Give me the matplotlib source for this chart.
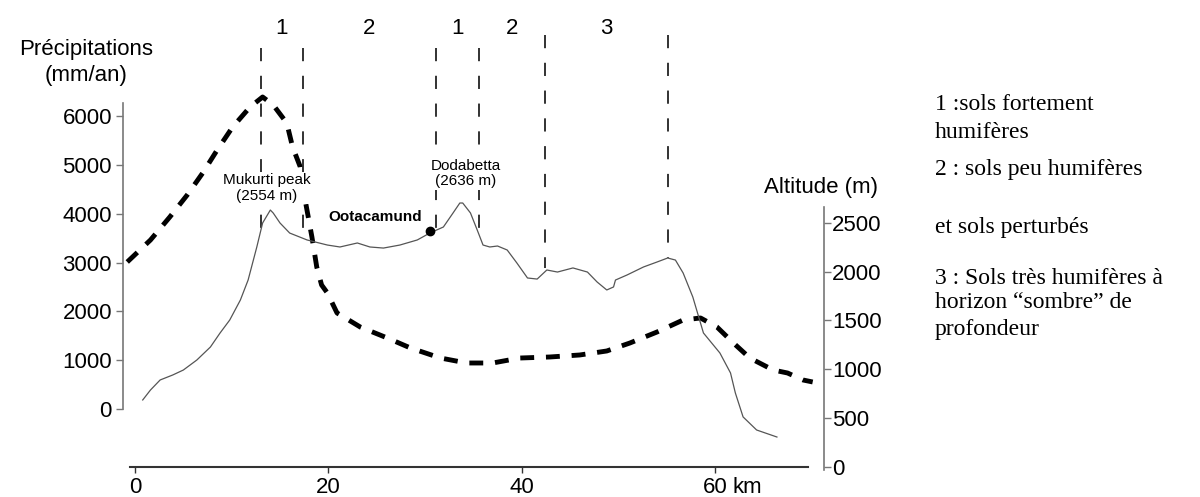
import matplotlib
matplotlib.use('Agg')
import matplotlib.pyplot as plt
import matplotlib.transforms as mtransforms

plt.rcParams['font.family'] = ['Liberation Sans', 'DejaVu Sans']
plt.rcParams['lines.scale_dashes'] = False

# altitude profile (km, m)
dist_alt = [0.8, 1.6, 2.6, 3.9, 5.0, 6.4, 7.8, 8.8, 9.8, 10.9, 11.7, 12.6, 13.2, 14.0,
            14.3, 15.0, 16.0, 17.8, 19.9, 21.2, 23.0, 24.3, 25.7, 27.4, 29.2, 30.5,
            31.9, 32.9, 33.6, 33.9, 34.7, 35.4, 36.0, 36.7, 37.5, 38.5, 39.5, 40.6,
            41.6, 42.6, 43.7, 45.3, 46.8, 47.8, 48.8, 49.5, 49.7, 50.9, 52.6, 54.0,
            55.1, 55.9, 56.7, 57.7, 58.8, 60.5, 61.6, 62.1, 62.9, 64.3, 66.4]
altitude = [685, 787, 890, 941, 992, 1095, 1228, 1372, 1505, 1710, 1915, 2254, 2500, 2633,
            2602, 2500, 2397, 2326, 2274, 2254, 2295, 2254, 2243, 2274, 2326, 2397,
            2459, 2603, 2705, 2705, 2603, 2428, 2274, 2254, 2264, 2223, 2090, 1936,
            1925, 2018, 1997, 2039, 1997, 1895, 1813, 1844, 1915, 1967, 2049, 2100,
            2141, 2120, 1987, 1741, 1372, 1167, 962, 757, 511, 377, 305]

# precipitation (km, mm/an)
dist_pr = [-0.8, 1.6, 3.6, 5.4, 7.0, 8.5, 10.1, 11.9, 13.2, 14.3, 15.7, 16.3, 17.1,
           17.6, 18.3, 18.8, 19.3, 19.9, 20.9, 23.3, 26.1, 28.5, 31.6, 34.3, 37.0,
           39.8, 42.9, 46.0, 48.8, 51.2, 54.0, 56.7, 58.5, 60.2, 61.9, 63.6, 66.0,
           67.5, 69.1, 70.1]
precip = [3011, 3461, 3932, 4383, 4833, 5304, 5775, 6185, 6390, 6226, 5857, 5366, 4956,
          4280, 3523, 2908, 2540, 2376, 1966, 1679, 1454, 1249, 1044, 942, 942,
          1044, 1065, 1106, 1188, 1352, 1577, 1823, 1864, 1679, 1352, 1044, 799,
          737, 594, 553]

# soil zone limits (km) and where the dashed lines start/stop (m)
limits = [13.0, 17.4, 31.1, 35.6, 42.4, 55.1]
limit_tops = [4295, 4295, 4295, 4295, 4428, 4428]
limit_bottoms = [2428, 2428, 2428, 2428, 2035, 2141]
zone_labels = ['1', '2', '1', '2', '3']

peaks = [('Mukurti peak\n(2554 m)', 13.65, 2859), ('Dodabetta\n(2636 m)', 34.25, 3008)]
town = ('Ootacamund', 30.5, 2421)

legend_lines = ['1 :sols fortement', 'humifères', '2 : sols peu humifères',
                'et sols perturbés', '3 : Sols très humifères à',
                'horizon \u201csombre\u201d de', 'profondeur']
legend_y = [105, 132, 170, 227, 278, 303, 330]

W, H = 1200, 497
fig = plt.figure(figsize=(W / 100, H / 100), dpi=100)
ax = fig.add_axes([123 / W, (H - 475) / H, (824 - 123) / W, (475 - 20) / H])
ax2 = ax.twinx()
ax2.set_zorder(ax.get_zorder() + 1)
ax2.patch.set_visible(False)

ax.set_xlim(-1.241, 71.27)
ax.set_ylim(-1352, 7967)
ax2.set_ylim(-84.6, 4582)

ax.plot(dist_pr, precip, color='black', lw=3.5, linestyle=(0, (10, 8.5)),
        dash_capstyle='butt', zorder=3)
ax2.plot(dist_alt, altitude, color='#555555', lw=0.9, zorder=2)
# drawn from the top down so the dash pattern starts at the top
ax2.vlines(limits, limit_tops, limit_bottoms, colors='#222222', lw=1.3,
           linestyles=[(0, (9.5, 10.5))], zorder=1)
ax2.plot([town[1]], [town[2]], 'o', color='black', ms=6, zorder=4)

for txt, x, y in peaks:
    ax2.text(x, y, txt, ha='center', va='center', fontsize=11, linespacing=1.15,
             zorder=5, bbox=dict(facecolor='white', edgecolor='none', pad=1))
ax2.text(town[1] - 0.8, town[2] + 140, town[0], ha='right', va='center',
         fontsize=11, fontweight='bold')

trans = mtransforms.blended_transform_factory(ax.transData, ax.transAxes)
for i, lab in enumerate(zone_labels):
    xm = (limits[i] + limits[i + 1]) / 2
    ax.text(xm, (475 - 28) / 455, lab, transform=trans, ha='center', va='center',
            fontsize=16)

# spines
for s in ['top', 'right']:
    ax.spines[s].set_visible(False)
for s in ['top', 'left', 'bottom']:
    ax2.spines[s].set_visible(False)
ax.spines['left'].set_bounds(0, 6267)
ax.spines['left'].set_color('#777777')
ax.spines['left'].set_linewidth(1.2)
ax.spines['bottom'].set_position(('data', -1188))
ax.spines['bottom'].set_bounds(-0.52, 69.6)
ax.spines['bottom'].set_color('#333333')
ax.spines['bottom'].set_linewidth(1.5)
ax2.spines['right'].set_bounds(-33, 2664)
ax2.spines['right'].set_color('#777777')
ax2.spines['right'].set_linewidth(1.2)

ax.set_yticks([0, 1000, 2000, 3000, 4000, 5000, 6000])
ax.set_xticks([0, 20, 40, 60])
ax2.set_yticks([0, 500, 1000, 1500, 2000, 2500])
ax.tick_params(axis='y', length=5, width=1, color='#777777', pad=3, labelsize=16)
ax.tick_params(axis='x', length=4, width=1, color='#333333', pad=3, labelsize=16)
ax2.tick_params(axis='y', length=5, width=1, color='#777777', pad=1, labelsize=16)
ax.text(61.8, -1393, 'km', ha='left', va='top', fontsize=16, clip_on=False)

fig.text(86 / W, 1 - 50 / H, 'Précipitations', ha='center', va='center', fontsize=16)
fig.text(86 / W, 1 - 75 / H, '(mm/an)', ha='center', va='center', fontsize=16)
fig.text(821 / W, 1 - 187 / H, 'Altitude (m)', ha='center', va='center', fontsize=16)

for txt, y in zip(legend_lines, legend_y):
    fig.text(935 / W, 1 - y / H, txt, ha='left', va='center', fontsize=17,
             family=['Liberation Serif', 'DejaVu Serif'])

fig.savefig('out.png', dpi=100)
